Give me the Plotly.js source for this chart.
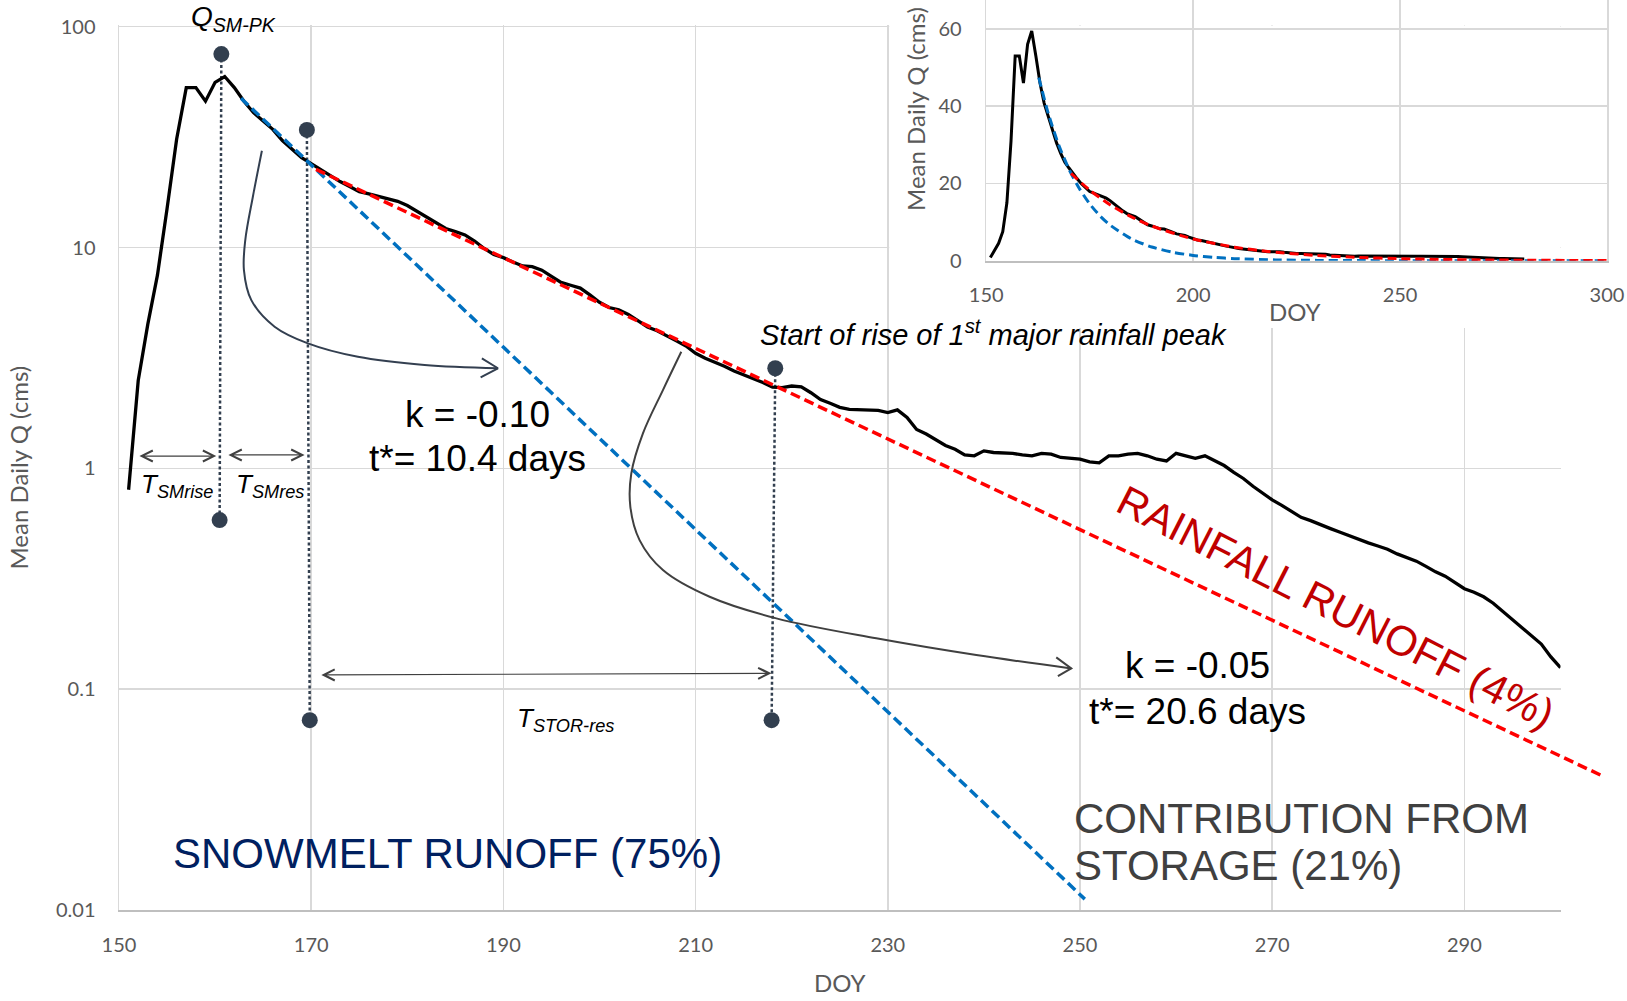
<!DOCTYPE html>
<html>
<head>
<meta charset="utf-8">
<script src="https://cdn.plot.ly/plotly-3.0.1.min.js"></script>
<style>
  html, body { margin: 0; padding: 0; background: #ffffff; }
  #chart { width: 1627px; height: 1001px; }
</style>
</head>
<body>
<div id="chart"></div>
<script>
// ---- Mean daily discharge (cms), one value per day of year starting at DOY 151 ----
const firstDoy = 151;
const meanQ = [
  0.8, 2.5, 4.5, 7.5, 15, 31, 53, 53, 46, 56,                  // 151-160
  59.5, 53, 46, 40.8, 37.4, 34.3, 30.5, 27.8, 25.5, 24.0,      // 161-170
  22.5, 21.2, 19.9, 18.9, 17.9, 17.5, 17.1, 16.7, 16.2, 15.5,  // 171-180
  14.6, 13.7, 12.9, 12.2, 11.8, 11.4, 10.7, 9.9, 9.3, 9.0,     // 181-190
  8.6, 8.25, 8.2, 7.9, 7.4, 6.95, 6.75, 6.55, 6.1, 5.65,       // 191-200
  5.35, 5.23, 4.98, 4.65, 4.37, 4.2, 4.0, 3.78, 3.58, 3.32,    // 201-210
  3.15, 3.03, 2.9, 2.76, 2.65, 2.55, 2.45, 2.33, 2.32, 2.36,   // 211-220
  2.34, 2.2, 2.05, 1.97, 1.89, 1.85, 1.84, 1.84, 1.83, 1.79,   // 221-230
  1.84, 1.70, 1.50, 1.43, 1.35, 1.27, 1.22, 1.15, 1.14, 1.20,  // 231-240
  1.18, 1.17, 1.17, 1.15, 1.14, 1.17, 1.16, 1.12, 1.11, 1.10,  // 241-250
  1.07, 1.06, 1.14, 1.14, 1.16, 1.17, 1.14, 1.10, 1.08, 1.17,  // 251-260
  1.14, 1.11, 1.14, 1.08, 1.03, 0.96, 0.90, 0.83, 0.77, 0.72,  // 261-270
  0.68, 0.64, 0.60, 0.58, 0.555, 0.535, 0.515, 0.495, 0.475, 0.46,   // 271-280
  0.445, 0.43, 0.41, 0.395, 0.38, 0.36, 0.34, 0.325, 0.305, 0.285,   // 281-290
  0.275, 0.262, 0.245, 0.225, 0.207, 0.19, 0.175, 0.16, 0.14, 0.125  // 291-300
];
const doy = meanQ.map((_, i) => firstDoy + i);
const insetLastDoy = 280;

// ---- Snowmelt recession fit (k = -0.10) ----
const snowFitDoy = [162.7, 165, 167.5, 170, 172.5, 175, 177.5, 180, 185, 190, 195, 200, 205, 210, 220, 230, 240, 250.5];
const snowFitQ   = [47.4, 38.1, 30.0, 23.7, 18.7, 14.7, 11.6, 9.16, 5.69, 3.54, 2.20, 1.37, 0.85, 0.53, 0.204, 0.079, 0.0305, 0.0112];
const snowTailDoy = [260, 280, 300];
const snowTailQ   = [0.005, 0.001, 0.0002];

// ---- Storage recession fit (k = -0.05) ----
const storFitDoy = [170.5, 175, 180, 185, 190, 200, 210, 218, 220, 230, 240, 250, 260, 270, 280, 290, 300, 304.4];
const storFitQ   = [22.6, 18.27, 14.43, 11.39, 8.99, 5.61, 3.50, 2.39, 2.18, 1.36, 0.847, 0.528, 0.329, 0.205, 0.128, 0.0798, 0.0497, 0.0404];

// ---- Event markers (peak, end of snowmelt recession, start of first rain rise) ----
const markTopDoy = [160.65, 169.55, 218.29];
const markTopQ   = [75.2, 34.1, 2.84];
const markBotDoy = [160.47, 169.85, 217.91];
const markBotQ   = [0.583, 0.0724, 0.0724];

// ---- Duration spans (double arrows) ----
const spanStartDoy = [151.97, 161.23, 170.9];
const spanEndDoy   = [160.12, 169.31, 217.9];
const spanStartQ   = [1.137, 1.15, 0.116];
const spanEndQ     = [1.137, 1.15, 0.118];

// ---- Callout curves pointing to the recession constants ----
const calloutSnowDoy = [164.87, 163.93, 163.14, 163.0, 163.77, 166.19, 169.66, 174.86, 181.80, 189.43];
const calloutSnowQ   = [27.44, 16.99, 10.81, 7.91, 5.78, 4.38, 3.68, 3.20, 2.94, 2.84];
const headSnowDoy = [187.76, 189.43, 187.63];
const headSnowQ   = [3.15, 2.84, 2.58];
const calloutStorDoy = [208.51, 206.60, 204.52, 203.31, 203.21, 204.17, 206.60, 211.46, 218.40, 228.80, 239.21, 249.09];
const calloutStorQ   = [3.374, 2.262, 1.4403, 0.9491, 0.670, 0.4734, 0.3463, 0.2621, 0.2093, 0.1699, 0.1427, 0.1242];
const headStorDoy = [247.53, 249.09, 247.70];
const headStorQ   = [0.1393, 0.1242, 0.1147];

// ---- Axis ticks ----
const xTicks = [150, 170, 190, 210, 230, 250, 270, 290];
const yTicks = [0.01, 0.1, 1, 10, 100];
const yTickText = ['0.01', '0.1', '1', '10', '100'];
const insetXTicks = [150, 200, 250, 300];
const insetYTicks = [0, 20, 40, 60];

// ---- Page geometry (px) ----
const FIG_W = 1627, FIG_H = 1001;
const M = { l: 119, r: 15, t: 0, b: 91 };
const W = FIG_W - M.l - M.r, H = FIG_H - M.t - M.b;
const fx = px => (px - M.l) / W;
const fy = py => (H - (py - M.t)) / H;

const mainRightPx = 1560.5;
const mainXDomain = [0, fx(mainRightPx)];
const mainYDomain = [0, fy(25.4)];
const pxPerDay = (mainRightPx - M.l) / 150;
const wideXEnd = 150 + W / pxPerDay;

const SANS = '"Liberation Sans", Arial, sans-serif';
const AXF = 'Lato, "Open Sans", sans-serif';
const AXIS_GREY = '#595959';
const GRID = '#d9d9d9';
const DOT_NAVY = '#323f4f';
const lg = Math.log10;

const gapJoin = (a, b) => a.flatMap((v, i) => i ? [null, v, b[i]] : [v, b[i]]);

const traces = [
  // dotted guides between marker pairs
  {
    x: gapJoin(markTopDoy, markBotDoy), y: gapJoin(markTopQ, markBotQ),
    xaxis: 'x', yaxis: 'y', mode: 'lines', connectgaps: false,
    line: { color: DOT_NAVY, width: 2.5, dash: '3px,2.5px' }, hoverinfo: 'skip'
  },
  // observed hydrograph
  {
    x: doy, y: meanQ, xaxis: 'x', yaxis: 'y', mode: 'lines',
    line: { color: '#000000', width: 3.3 }, hoverinfo: 'skip'
  },
  // snowmelt recession
  {
    x: snowFitDoy, y: snowFitQ, xaxis: 'x', yaxis: 'y', mode: 'lines',
    line: { color: '#0070c0', width: 3.5, dash: '10px,5px' }, hoverinfo: 'skip'
  },
  // callouts
  {
    x: calloutSnowDoy, y: calloutSnowQ, xaxis: 'x', yaxis: 'y', mode: 'lines',
    line: { color: '#333f50', width: 2, shape: 'spline', smoothing: 1 }, hoverinfo: 'skip'
  },
  {
    x: headSnowDoy, y: headSnowQ, xaxis: 'x', yaxis: 'y', mode: 'lines',
    line: { color: '#333f50', width: 2 }, hoverinfo: 'skip'
  },
  {
    x: calloutStorDoy, y: calloutStorQ, xaxis: 'x', yaxis: 'y', mode: 'lines',
    line: { color: '#404040', width: 2, shape: 'spline', smoothing: 1 }, hoverinfo: 'skip'
  },
  {
    x: headStorDoy, y: headStorQ, xaxis: 'x', yaxis: 'y', mode: 'lines',
    line: { color: '#404040', width: 2 }, hoverinfo: 'skip'
  },
  // marker dots
  {
    x: markTopDoy.concat(markBotDoy), y: markTopQ.concat(markBotQ),
    xaxis: 'x', yaxis: 'y', mode: 'markers',
    marker: { color: DOT_NAVY, size: 16 }, hoverinfo: 'skip'
  },
  // storage recession, on a wider overlay axis so it can run past DOY 300
  {
    x: storFitDoy, y: storFitQ, xaxis: 'x3', yaxis: 'y3', mode: 'lines',
    line: { color: '#ff0000', width: 3.5, dash: '10px,5px' }, hoverinfo: 'skip'
  },
  // inset: linear scale
  {
    x: doy.filter(d => d <= insetLastDoy), y: meanQ.filter((_, i) => doy[i] <= insetLastDoy),
    xaxis: 'x2', yaxis: 'y2', mode: 'lines',
    line: { color: '#000000', width: 3 }, hoverinfo: 'skip'
  },
  {
    x: snowFitDoy.concat(snowTailDoy), y: snowFitQ.concat(snowTailQ),
    xaxis: 'x2', yaxis: 'y2', mode: 'lines',
    line: { color: '#0070c0', width: 3, dash: '9px,5px', shape: 'spline', smoothing: 0.6 }, hoverinfo: 'skip'
  },
  {
    x: storFitDoy, y: storFitQ, xaxis: 'x2', yaxis: 'y2', mode: 'lines',
    line: { color: '#ff0000', width: 3, dash: '9px,5px', shape: 'spline', smoothing: 0.6 }, hoverinfo: 'skip'
  }
];

function note(text, d, q, size, color, extra) {
  return Object.assign({
    xref: 'x', yref: 'y', x: d, y: lg(q), text: text, showarrow: false,
    font: { family: SANS, size: size, color: color },
    xanchor: 'center', yanchor: 'middle'
  }, extra || {});
}

const annotations = [
  {
    xref: 'x', yref: 'paper', x: 161.9, y: fy(18), text: '<i>Q<sub>SM-PK</sub></i>', showarrow: false,
    font: { family: SANS, size: 28, color: '#000000' }, xanchor: 'center', yanchor: 'middle'
  },
  note('<i>T<sub>SMrise</sub></i>', 156.05, 0.8326, 26, '#000000'),
  note('<i>T<sub>SMres</sub></i>', 165.75, 0.8326, 26, '#000000'),
  note('<i>T<sub>STOR-res</sub></i>', 196.42, 0.0726, 26, '#000000'),
  note('k = -0.10', 187.35, 1.749, 37, '#000000'),
  note('t*= 10.4 days', 187.26, 1.109, 37, '#000000'),
  note('k = -0.05', 262.24, 0.1282, 37, '#000000'),
  note('t*= 20.6 days', 262.24, 0.0795, 37, '#000000'),
  note('<i>Start of rise of 1<sup>st</sup> major rainfall peak</i>', 240.98, 4.10, 29, '#000000'),
  note('SNOWMELT RUNOFF (75%)', 155.39, 0.01795, 42, '#002060', { xanchor: 'left' }),
  note('CONTRIBUTION FROM', 249.21, 0.026, 42, '#404040', { xanchor: 'left' }),
  note('STORAGE (21%)', 249.21, 0.01592, 42, '#404040', { xanchor: 'left' }),
  note('RAINFALL RUNOFF (4%)', 276.69, 0.2355, 42, '#c00000', { textangle: 27 }),
  // inset axis titles
  {
    xref: 'paper', yref: 'paper', x: fx(1295), y: fy(311), text: 'DOY', showarrow: false,
    font: { family: AXF, size: 24, color: AXIS_GREY }, xanchor: 'center', yanchor: 'middle'
  },
  {
    xref: 'paper', yref: 'paper', x: fx(915), y: fy(109), text: 'Mean Daily Q (cms)', showarrow: false,
    textangle: -90, font: { family: AXF, size: 24, color: AXIS_GREY }, xanchor: 'center', yanchor: 'middle'
  }
];

// double-headed span arrows
spanStartDoy.forEach((s, i) => {
  annotations.push({
    xref: 'x', yref: 'y', axref: 'x', ayref: 'y',
    x: spanEndDoy[i], y: lg(spanEndQ[i]), ax: s, ay: lg(spanStartQ[i]),
    text: '', showarrow: true, arrowside: 'end+start',
    arrowhead: 5, startarrowhead: 5, arrowsize: 1.8, startarrowsize: 1.8,
    arrowwidth: 1.2, arrowcolor: '#404040', standoff: 0, startstandoff: 0
  });
});

const tickFont = { family: AXF, size: 20, color: AXIS_GREY };

const layout = {
  width: FIG_W, height: FIG_H,
  margin: { l: M.l, r: M.r, t: M.t, b: M.b, autoexpand: false },
  paper_bgcolor: '#ffffff', plot_bgcolor: 'rgba(255,255,255,0)',
  showlegend: false, hovermode: false,
  xaxis: {
    domain: mainXDomain, range: [150, 300], anchor: 'y',
    tickmode: 'array', tickvals: xTicks, ticktext: xTicks.map(String),
    showgrid: true, gridcolor: GRID, gridwidth: 1.5,
    showline: true, linecolor: '#bfbfbf', linewidth: 2,
    zeroline: false, ticks: '', tickfont: tickFont, ticklabelstandoff: 16,
    automargin: false,
    title: { text: 'DOY', font: { family: AXF, size: 24, color: AXIS_GREY }, standoff: 20 }
  },
  yaxis: {
    domain: mainYDomain, type: 'log', range: [-2, 2.006], anchor: 'x',
    tickmode: 'array', tickvals: yTicks, ticktext: yTickText,
    showgrid: true, gridcolor: GRID, gridwidth: 1.5,
    showline: true, linecolor: GRID, linewidth: 1.5,
    zeroline: false, ticks: '', tickfont: tickFont, ticklabelstandoff: 18,
    automargin: false,
    title: { text: 'Mean Daily Q (cms)', font: { family: AXF, size: 24, color: AXIS_GREY }, standoff: 20 }
  },
  xaxis3: {
    domain: [0, 1], range: [150, wideXEnd], anchor: 'y3', visible: false
  },
  yaxis3: {
    domain: mainYDomain, type: 'log', range: [-2, 2.006], anchor: 'x3', visible: false
  },
  xaxis2: {
    domain: [fx(986.2), fx(1607)], range: [150, 300], anchor: 'y2',
    tickmode: 'array', tickvals: insetXTicks, ticktext: insetXTicks.map(String),
    showgrid: true, gridcolor: GRID, gridwidth: 1.5,
    showline: true, linecolor: '#bfbfbf', linewidth: 2,
    zeroline: false, ticks: '', tickfont: tickFont, ticklabelstandoff: 15,
    automargin: false
  },
  yaxis2: {
    domain: [fy(260.7), 1], range: [0, 67.5], anchor: 'x2',
    tickmode: 'array', tickvals: insetYTicks, ticktext: insetYTicks.map(String),
    showgrid: true, gridcolor: GRID, gridwidth: 1.5,
    showline: true, mirror: true, linecolor: GRID, linewidth: 1.5,
    zeroline: false, ticks: '', tickfont: tickFont, ticklabelstandoff: 19,
    automargin: false
  },
  shapes: [
    // white panel behind the inset, hiding the main grid there
    {
      type: 'rect', xref: 'x', yref: 'y', layer: 'between',
      x0: 230.15, x1: 310, y0: 4.32, y1: 1000,
      fillcolor: '#ffffff', line: { width: 0 }
    }
  ],
  annotations: annotations
};

Plotly.newPlot('chart', traces, layout, { staticPlot: true, displayModeBar: false });
</script>
</body>
</html>
